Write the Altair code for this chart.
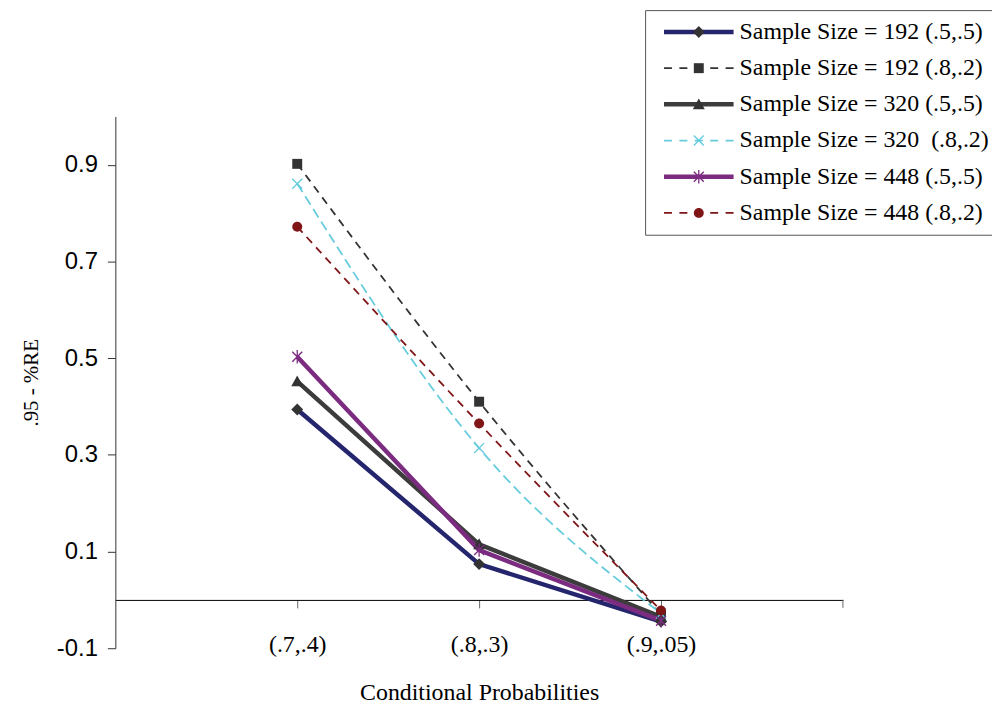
import altair as alt
import pandas as pd

# ---------------- data ----------------
conditions = ["(.7,.4)", "(.8,.3)", "(.9,.05)"]
series_names = [
    "Sample Size = 192 (.5,.5)",
    "Sample Size = 192 (.8,.2)",
    "Sample Size = 320 (.5,.5)",
    "Sample Size = 320\u00a0 (.8,.2)",
    "Sample Size = 448 (.5,.5)",
    "Sample Size = 448 (.8,.2)",
]
v192_55 = [0.394, 0.074, -0.045]
v192_82 = [0.902, 0.410, -0.030]
v320_55 = [0.452, 0.115, -0.035]
v320_82 = [0.861, 0.314, -0.028]
v448_55 = [0.503, 0.103, -0.043]
v448_82 = [0.772, 0.365, -0.022]
series_values = [v192_55, v192_82, v320_55, v320_82, v448_55, v448_82]
is_dashed = [False, True, False, True, False, True]

y_ticks = [-0.1, 0.1, 0.3, 0.5, 0.7, 0.9]

# ---------------- styles ----------------
line_colors = ["#25256E", "#333333", "#3C3C3C", "#66CCDD", "#7B2C80", "#7F1517"]
marker_colors = ["#333333", "#333333", "#333333", "#66CCDD", "#7B2C80", "#7F1517"]
solid_colors = [c if not d else "transparent" for c, d in zip(line_colors, is_dashed)]
dashed_colors = [c if d else "transparent" for c, d in zip(line_colors, is_dashed)]
line_dashes = [[1, 0], [8, 6], [1, 0], [10, 5], [1, 0], [8, 6]]

marker_paths = [
    "M0,-1.2L1.2,0L0,1.2L-1.2,0Z",
    "M-1,-1H1V1H-1Z",
    "M0,-1.2L1.2,1H-1.2Z",
    "M-0.9,-1.1L1.1,0.9L0.9,1.1L-1.1,-0.9ZM0.9,-1.1L1.1,-0.9L-0.9,1.1L-1.1,0.9Z",
    "M-0.9,-1.1L1.1,0.9L0.9,1.1L-1.1,-0.9ZM0.9,-1.1L1.1,-0.9L-0.9,1.1L-1.1,0.9ZM-0.13,-1.35H0.13V1.35H-0.13Z",
    "M1,0A1,1 0 1,1 -1,0A1,1 0 1,1 1,0Z",
]
legend_line_path = "M-1,0H13"

rows = []
for name, vals, dashed in zip(series_names, series_values, is_dashed):
    for c, v in zip(conditions, vals):
        rows.append({"cond": c, "series": name, "value": v, "dashed": dashed})
df = pd.DataFrame(rows)

LX, LY = 533, -107
legend_common = dict(
    title=None, orient="none", legendX=LX, legendY=LY, padding=10,
    labelFont="Liberation Serif", labelFontSize=24, labelColor="black",
    labelLimit=400, rowPadding=12.4, symbolOpacity=1, symbolSize=100,
)
solid_legend = alt.Legend(
    fillColor="white", strokeColor="#555555",
    symbolType=legend_line_path, symbolStrokeWidth=4.5, symbolOffset=2, labelOffset=59,
    **legend_common,
)
# overlay legends: symbols only (the visible labels come from solid_legend)
dashed_legend = alt.Legend(
    labelExpr="''", symbolType=legend_line_path, symbolStrokeWidth=1.8,
    symbolDash=[8, 7.5], symbolOffset=2, labelOffset=59,
    **legend_common,
)
marker_legend = alt.Legend(
    labelExpr="''", symbolOffset=32, labelOffset=37,
    **legend_common,
)

x_enc = alt.X(
    "cond:N", sort=conditions,
    scale=alt.Scale(type="point", padding=1),
    title="Conditional Probabilities",
    axis=alt.Axis(
        orient="bottom", offset=-48.6, domainColor="#000000", domainWidth=1,
        tickColor="#666666", tickSize=8, labelAngle=0,
        labelFont="Liberation Serif", labelFontSize=24, labelColor="black",
        labelPadding=25, titleFont="Liberation Serif", titleFontSize=24,
        titleFontWeight="normal", titleColor="black", titlePadding=24, grid=False,
    ),
)
y_enc = alt.Y(
    "value:Q",
    scale=alt.Scale(domain=[-0.1, 1.0], nice=False, zero=False),
    title=".95 - %RE",
    axis=alt.Axis(
        values=y_ticks,
        labelExpr="datum.value < 0 ? '-' + format(-datum.value, '.1f') : format(datum.value, '.1f')",
        domainColor="#333333", tickColor="#333333", tickSize=8,
        labelFont="Liberation Sans", labelFontSize=24, labelColor="black",
        labelPadding=10, titleFont="Liberation Serif", titleFontSize=21,
        titleFontWeight="normal", titleColor="black", titlePadding=15, grid=False,
    ),
)

base = alt.Chart(df)
solid_lines = base.transform_filter("!datum.dashed").mark_line(strokeWidth=4.5).encode(
    x=x_enc, y=y_enc,
    stroke=alt.Stroke("series:N", scale=alt.Scale(domain=series_names, range=solid_colors),
                      legend=solid_legend),
)
dashed_lines = base.transform_filter("datum.dashed").mark_line(
    strokeWidth=1.8, interpolate="monotone").encode(
    x=x_enc, y=y_enc,
    stroke=alt.Stroke("series:N", scale=alt.Scale(domain=series_names, range=dashed_colors),
                      legend=dashed_legend),
    strokeDash=alt.StrokeDash("series:N", scale=alt.Scale(domain=series_names, range=line_dashes),
                              legend=None),
)
points = base.mark_point(filled=True, size=100, opacity=1).encode(
    x=x_enc, y=y_enc,
    color=alt.Color("series:N", scale=alt.Scale(domain=series_names, range=marker_colors),
                    legend=marker_legend),
    shape=alt.Shape("series:N", scale=alt.Scale(domain=series_names, range=marker_paths),
                    legend=marker_legend),
)
end_tick = alt.Chart(pd.DataFrame({"a": [0]})).mark_rule(color="#666666").encode(
    x=alt.value(732), y=alt.datum(0), y2=alt.datum(-0.0165))

chart = alt.layer(solid_lines, dashed_lines, points, end_tick).resolve_scale(
    stroke="independent", color="independent", shape="independent"
).properties(
    width=732, height=535,
    autosize=alt.AutoSizeParams(type="none"),
    padding={"left": 108, "top": 107, "right": 150, "bottom": 58},
).configure_view(stroke=None)

chart.save("out.html", embed_options={"renderer": "svg", "actions": False})
